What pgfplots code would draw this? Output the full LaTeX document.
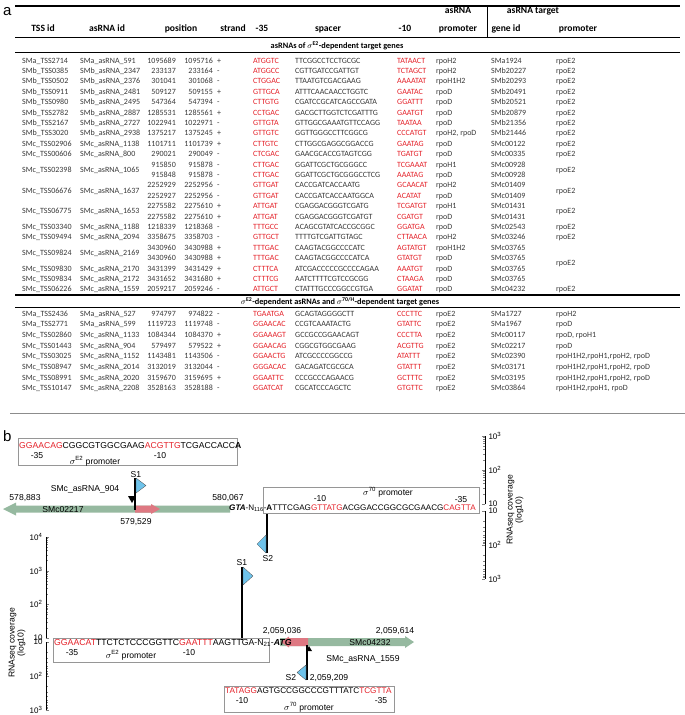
\documentclass[border=0pt]{standalone}
\usepackage{fontspec}
\setmainfont{Carlito}
\newfontfamily\arial{Liberation Sans}
\usepackage{pgfplots}
\pgfplotsset{compat=1.18}
\definecolor{sred}{RGB}{228,32,40}
\definecolor{ggreen}{RGB}{150,185,160}
\definecolor{apink}{RGB}{222,120,130}
\definecolor{fblue}{RGB}{110,195,235}
\definecolor{boxgray}{RGB}{150,150,150}
\definecolor{tgray}{RGB}{55,55,55}
\newcommand{\R}[1]{\textcolor{sred}{#1}}
\newcommand{\row}[9]{%
 \node[tl] at (22,#1) {#2};
 \node[tl] at (80,#1) {#3};
 \node[tr] at (176,#1) {#4};
 \node[tr] at (213,#1) {#5};
 \node[tl] at (217,#1) {#6};
 \node[tl,text=sred] at (253,#1) {#7};
 \node[tl] at (295,#1) {#8};
 \node[tl,text=sred] at (397,#1) {#9};}
\newcommand{\rowb}[4]{%
 \node[tl] at (436,#1) {#2};
 \node[tl] at (491,#1) {#3};
 \node[tl] at (556,#1) {#4};}
\newcommand{\covfont}{\arial\fontsize{8}{8}\selectfont}
\begin{document}
\begin{tikzpicture}
\path[use as bounding box] (0,0) rectangle (685pt,-715pt);
% ---------- canvas axis for diagram shapes ----------
\begin{axis}[at={(0pt,-715pt)}, anchor=south west, x=1pt, y=1pt, y dir=reverse,
  xmin=0, xmax=685, ymin=0, ymax=715, hide axis, clip=false]
% top: green gene arrow SMc02217 (minus strand)
\addplot[fill=ggreen, draw=none] coordinates {(3,509)(16,502.5)(16,505.5)(230,505.5)(230,512.5)(16,512.5)(16,515.5)(3,509)};
% asRNA 904 pink arrow
\addplot[fill=apink, draw=none] coordinates {(135,505.5)(151,505.5)(151,504)(160,509)(151,514)(151,512.5)(135,512.5)(135,505.5)};
% S1 top
\addplot[black, line width=1.6pt] coordinates {(135,478)(135,510)};
\addplot[fill=fblue, draw=black!70, line width=0.3pt] coordinates {(136,478)(146,485.5)(136,493)(136,478)};
\addplot[fill=black, draw=none] coordinates {(128,496)(136,496)(132,503)(128,496)};
% S2 top
\addplot[black, line width=1.6pt] coordinates {(267,514)(267,553)};
\addplot[fill=fblue, draw=black!70, line width=0.3pt] coordinates {(266,535)(257,544)(266,553)(266,535)};
% bottom: green gene arrow SMc04232 (plus strand)
\addplot[fill=ggreen, draw=none] coordinates {(280,638)(405,638)(405,636)(414,642)(405,648)(405,646)(280,646)(280,638)};
\addplot[fill=apink, draw=none] coordinates {(308,638)(289,638)(289,636.5)(281,642)(289,647.5)(289,646)(308,646)(308,638)};
% S1 bottom
\addplot[black, line width=1.6pt] coordinates {(242,567)(242,640)};
\addplot[fill=fblue, draw=black!70, line width=0.3pt] coordinates {(243,567)(253,576)(243,585)(243,567)};
% S2 bottom
\addplot[black, line width=1.6pt] coordinates {(307,645)(307,680)};
\addplot[fill=fblue, draw=black!70, line width=0.3pt] coordinates {(306,665)(297,672.5)(306,680)(306,665)};
\addplot[fill=black, draw=none] coordinates {(306,651)(312,651)(309,646)(306,651)};
\end{axis}
% ---------- coverage axes ----------
\begin{axis}[at={(485pt,-504pt)}, anchor=south east, scale only axis, width=1pt, height=68pt,
  xmin=0, xmax=1, ymode=log, ymin=10, ymax=1000, axis x line=none, axis y line=right,
  axis line style={-}, tick align=inside, major tick length=3pt, minor tick length=1.6pt,
  tick label style={font=\covfont},
  ytick={10,100,1000}, yticklabels={10,10\textsuperscript{2},10\textsuperscript{3}}]
\addplot[draw=none] coordinates {(0.5,100)};
\end{axis}
\begin{axis}[at={(485pt,-511pt)}, anchor=north east, scale only axis, width=1pt, height=68pt,
  xmin=0, xmax=1, ymode=log, ymin=10, ymax=1000, y dir=reverse, axis x line=none, axis y line=right,
  axis line style={-}, tick align=inside, major tick length=3pt, minor tick length=1.6pt,
  tick label style={font=\covfont},
  ytick={10,100,1000}, yticklabels={10,10\textsuperscript{2},10\textsuperscript{3}}]
\addplot[draw=none] coordinates {(0.5,100)};
\end{axis}
\begin{axis}[at={(46pt,-638pt)}, anchor=south west, scale only axis, width=1pt, height=101pt,
  xmin=0, xmax=1, ymode=log, ymin=10, ymax=10000, axis x line=none, axis y line=left,
  axis line style={-}, tick align=inside, major tick length=3pt, minor tick length=1.6pt,
  tick label style={font=\covfont},
  ytick={10,100,1000,10000}, yticklabels={10,10\textsuperscript{2},10\textsuperscript{3},10\textsuperscript{4}}]
\addplot[draw=none] coordinates {(0.5,100)};
\end{axis}
\begin{axis}[at={(46pt,-642pt)}, anchor=north west, scale only axis, width=1pt, height=68pt,
  xmin=0, xmax=1, ymode=log, ymin=10, ymax=1000, y dir=reverse, axis x line=none, axis y line=left,
  axis line style={-}, tick align=inside, major tick length=3pt, minor tick length=1.6pt,
  tick label style={font=\covfont},
  ytick={10,100,1000}, yticklabels={10,10\textsuperscript{2},10\textsuperscript{3}}]
\addplot[draw=none] coordinates {(0.5,100)};
\end{axis}
% ---------- text ----------
\begin{scope}[x=1pt,y=-1pt,
  tl/.style={anchor=base west, inner sep=0pt, text=tgray, font=\fontsize{8}{9}\selectfont},
  tr/.style={anchor=base east, inner sep=0pt, text=tgray, font=\fontsize{8}{9}\selectfont},
  hd/.style={anchor=base, inner sep=0pt, font=\bfseries\fontsize{9.6}{10}\selectfont},
  st/.style={anchor=base, inner sep=0pt, font=\bfseries\fontsize{8.3}{9}\selectfont},
  bt/.style={inner sep=0pt, font=\arial\fontsize{8.6}{9}\selectfont},
  sq/.style={anchor=base west, inner sep=0pt, font=\arial\fontsize{8.2}{9}\selectfont}]
\node[anchor=base west, inner sep=0pt, font=\arial\fontsize{15}{15}\selectfont] at (3,15) {a};
\draw[line width=1.1pt] (15,6)--(680,6);
\draw[line width=0.8pt] (15,37)--(680,37);
\draw[line width=0.6pt] (487,7)--(487,37);
\draw[line width=0.6pt] (15,52.5)--(680,52.5);
\draw[line width=1.2pt] (15,295)--(680,295);
\draw[line width=0.6pt] (15,307)--(680,307);
\draw[line width=0.6pt, black!45] (10,413)--(685,413);
% header
\node[hd] at (43,31) {TSS id};
\node[hd] at (107,31) {asRNA id};
\node[hd] at (181,31) {position};
\node[hd] at (233,31) {strand};
\node[hd] at (262,31) {-35};
\node[hd] at (328,31) {spacer};
\node[hd] at (405,31) {-10};
\node[hd] at (458,31) {promoter};
\node[hd] at (458,13) {asRNA};
\node[hd] at (506,31) {gene id};
\node[hd] at (578,31) {promoter};
\node[hd] at (533,13) {asRNA target};
\node[st] at (337,48.5) {asRNAs of \(\sigma\)\textsuperscript{E2}-dependent target genes};
\node[st] at (340,304.5) {\(\sigma\)\textsuperscript{E2}-dependent asRNAs and \(\sigma\)\textsuperscript{70/H}-dependent target genes};
% section 1
\row{63}{SMa\_TSS2714}{SMa\_asRNA\_591}{1095689}{1095716}{+}{ATGGTC}{TTCGGCCTCCTGCGC}{TATAACT}
\rowb{63}{rpoH2}{SMa1924}{rpoE2}
\row{73.4}{SMb\_TSS0385}{SMb\_asRNA\_2347}{233137}{233164}{-}{ATGGCC}{CGTTGATCCGATTGT}{TCTAGCT}
\rowb{73.4}{rpoH2}{SMb20227}{rpoE2}
\row{83.8}{SMb\_TSS0502}{SMb\_asRNA\_2376}{301041}{301068}{-}{CTGGAC}{TTAATGTCGACGAAG}{AAAATAT}
\rowb{83.8}{rpoH1H2}{SMb20293}{rpoE2}
\row{94.2}{SMb\_TSS0911}{SMb\_asRNA\_2481}{509127}{509155}{+}{GTTGCA}{ATTTCAACAACCTGGTC}{GAATAC}
\rowb{94.2}{rpoD}{SMb20491}{rpoE2}
\row{104.6}{SMb\_TSS0980}{SMb\_asRNA\_2495}{547364}{547394}{-}{CTTGTG}{CGATCCGCATCAGCCGATA}{GGATTT}
\rowb{104.6}{rpoD}{SMb20521}{rpoE2}
\row{115}{SMb\_TSS2782}{SMb\_asRNA\_2887}{1285531}{1285561}{+}{CCTGAC}{GACGCTTGGTCTCGATTTG}{GAATGT}
\rowb{115}{rpoD}{SMb20879}{rpoE2}
\row{125.4}{SMb\_TSS2167}{SMb\_asRNA\_2727}{1022941}{1022971}{-}{GTTGTA}{GTTGGCGAAATGTTCCAGG}{TAATAA}
\rowb{125.4}{rpoD}{SMb21356}{rpoE2}
\row{135.8}{SMb\_TSS3020}{SMb\_asRNA\_2938}{1375217}{1375245}{+}{GTTGTC}{GGTTGGGCCTTCGGCG}{CCCATGT}
\rowb{135.8}{rpoH2, rpoD}{SMb21446}{rpoE2}
\row{146.2}{SMc\_TSS02906}{SMc\_asRNA\_1138}{1101711}{1101739}{+}{CTTGTC}{CTTGGCGAGGCGGACCG}{GAATAG}
\rowb{146.2}{rpoD}{SMc00122}{rpoE2}
\row{156.6}{SMc\_TSS00606}{SMc\_asRNA\_800}{290021}{290049}{-}{CTCGAC}{GAACGCACCGTAGTCGG}{TGATGT}
\rowb{156.6}{rpoD}{SMc00335}{rpoE2}
\row{167}{}{}{915850}{915878}{-}{CTTGAC}{GGATTCGCTGCGGGCC}{TCGAAAT}
\rowb{167}{rpoH1}{SMc00928}{}
\row{177.4}{}{}{915848}{915878}{-}{CTTGAC}{GGATTCGCTGCGGGCCTCG}{AAATAG}
\rowb{177.4}{rpoD}{SMc00928}{}
\row{172.2}{SMc\_TSS02398}{SMc\_asRNA\_1065}{}{}{}{}{}{}
\rowb{172.2}{}{}{rpoE2}
\row{187.8}{}{}{2252929}{2252956}{-}{GTTGAT}{CACCGATCACCAATG}{GCAACAT}
\rowb{187.8}{rpoH2}{SMc01409}{}
\row{198.2}{}{}{2252927}{2252956}{-}{GTTGAT}{CACCGATCACCAATGGCA}{ACATAT}
\rowb{198.2}{rpoD}{SMc01409}{}
\row{193}{SMc\_TSS06676}{SMc\_asRNA\_1637}{}{}{}{}{}{}
\rowb{193}{}{}{rpoE2}
\row{208.6}{}{}{2275582}{2275610}{+}{ATTGAT}{CGAGGACGGGTCGATG}{TCGATGT}
\rowb{208.6}{rpoH1}{SMc01431}{}
\row{219}{}{}{2275582}{2275610}{+}{ATTGAT}{CGAGGACGGGTCGATGT}{CGATGT}
\rowb{219}{rpoD}{SMc01431}{}
\row{213.8}{SMc\_TSS06775}{SMc\_asRNA\_1653}{}{}{}{}{}{}
\rowb{213.8}{}{}{rpoE2}
\row{229.4}{SMc\_TSS03340}{SMc\_asRNA\_1188}{1218339}{1218368}{-}{TTTGCC}{ACAGCGTATCACCGCGGC}{GGATGA}
\rowb{229.4}{rpoD}{SMc02543}{rpoE2}
\row{239.8}{SMc\_TSS09494}{SMc\_asRNA\_2094}{3358675}{3358703}{-}{GTTGCT}{TTTTGTCGATTGTAGC}{CTTAACA}
\rowb{239.8}{rpoH2}{SMc03246}{rpoE2}
\row{250.2}{}{}{3430960}{3430988}{+}{TTTGAC}{CAAGTACGGCCCCATC}{AGTATGT}
\rowb{250.2}{rpoH1H2}{SMc03765}{}
\row{260.6}{}{}{3430960}{3430988}{+}{TTTGAC}{CAAGTACGGCCCCATCA}{GTATGT}
\rowb{260.6}{rpoD}{SMc03765}{}
\row{255.4}{SMc\_TSS09824}{SMc\_asRNA\_2169}{}{}{}{}{}{}
\row{271}{SMc\_TSS09830}{SMc\_asRNA\_2170}{3431399}{3431429}{+}{CTTTCA}{ATCGACCCCCGCCCCAGAA}{AAATGT}
\rowb{271}{rpoD}{SMc03765}{}
\row{281.4}{SMc\_TSS09834}{SMc\_asRNA\_2172}{3431652}{3431680}{+}{CTTTCG}{AATCTTTTCGTCCGCGG}{CTAAGA}
\rowb{281.4}{rpoD}{SMc03765}{}
\rowb{265.8}{}{}{rpoE2}
\row{291.8}{SMc\_TSS06226}{SMc\_asRNA\_1559}{2059217}{2059246}{-}{ATTGCT}{CTATTTGCCCGGCCGTGA}{GGATAT}
\rowb{291.8}{rpoD}{SMc04232}{rpoE2}
% section 2
\row{316}{SMa\_TSS2436}{SMa\_asRNA\_527}{974797}{974822}{-}{TGAATGA}{GCAGTAGGGGCTT}{CCCTTC}
\rowb{316}{rpoE2}{SMa1727}{rpoH2}
\row{326.7}{SMa\_TSS2771}{SMa\_asRNA\_599}{1119723}{1119748}{-}{GGAACAC}{CCGTCAAATACTG}{GTATTC}
\rowb{326.7}{rpoE2}{SMa1967}{rpoD}
\row{337.4}{SMc\_TSS02860}{SMc\_asRNA\_1133}{1084344}{1084370}{+}{GGAAAGT}{GCCGCCGGAACAGT}{CCCTTA}
\rowb{337.4}{rpoE2}{SMc00117}{rpoD, rpoH1}
\row{348.1}{SMc\_TSS01443}{SMc\_asRNA\_904}{579497}{579522}{+}{GGAACAG}{CGGCGTGGCGAAG}{ACGTTG}
\rowb{348.1}{rpoE2}{SMc02217}{rpoD}
\row{358.8}{SMc\_TSS03025}{SMc\_asRNA\_1152}{1143481}{1143506}{-}{GGAACTG}{ATCGCCCCGGCCG}{ATATTT}
\rowb{358.8}{rpoE2}{SMc02390}{rpoH1H2,rpoH1,rpoH2, rpoD}
\row{369.5}{SMc\_TSS08947}{SMc\_asRNA\_2014}{3132019}{3132044}{-}{GGGACAC}{GACAGATCGCGCA}{GTATTT}
\rowb{369.5}{rpoE2}{SMc03171}{rpoH1H2,rpoH1,rpoH2, rpoD}
\row{380.2}{SMc\_TSS08991}{SMc\_asRNA\_2020}{3159670}{3159695}{+}{GGAATTC}{CCCGCCCAGAACG}{GCTTTC}
\rowb{380.2}{rpoE2}{SMc03195}{rpoH1H2,rpoH1,rpoH2, rpoD}
\row{390.9}{SMc\_TSS10147}{SMc\_asRNA\_2208}{3528163}{3528188}{-}{GGATCAT}{CGCATCCCAGCTC}{GTGTTC}
\rowb{390.9}{rpoE2}{SMc03864}{rpoH1H2,rpoH1, rpoD}
% ---------------- part b ----------------
\node[anchor=base west, inner sep=0pt, font=\arial\fontsize{15}{15}\selectfont] at (3,441) {b};
% top sigma E2 box
\draw[boxgray, line width=0.5pt] (18,438) rectangle (237,465);
\node[sq, font=\arial\fontsize{8.6}{9}\selectfont] at (19,448.5) {\R{GGAACAG}CGGCGTGGCGAAG\R{ACGTTG}TCGACCACC\textbf{A}};
\node[bt, anchor=base] at (37,458) {-35};
\node[bt, anchor=base] at (160,458) {-10};
\node[bt, anchor=base] at (95,464) {\(\sigma\)\textsuperscript{E2} promoter};
\node[bt, anchor=base] at (136,477) {S1};
\node[bt, anchor=base] at (85,491) {SMc\_asRNA\_904};
\node[bt, anchor=base] at (25,500) {578,883};
\node[bt, anchor=base] at (63,512) {SMc02217};
\node[bt, anchor=base] at (136,524) {579,529};
\node[bt, anchor=base] at (228,500) {580,067};
% top sigma 70 box
\draw[boxgray, line width=0.5pt] (263,487) rectangle (479,513);
\node[sq, font=\arial\fontsize{8.1}{9}\selectfont] at (229,510.5) {\textbf{\textit{GTA}}-N\textsubscript{116}-\textbf{A}TTTCGAG\R{GTTATG}ACGGACCGGCGCGAACG\R{CAGTTA}};
\node[bt, anchor=base] at (320,501) {-10};
\node[bt, anchor=base] at (388,495) {\(\sigma\)\textsuperscript{70} promoter};
\node[bt, anchor=base] at (461,502) {-35};
\node[bt, anchor=base] at (268,561) {S2};
\node[bt, anchor=center, rotate=90, align=center] at (515,510) {RNAseq coverage\\(log10)};
% bottom
\node[bt, anchor=base] at (242,565) {S1};
\node[bt, anchor=center, rotate=90, align=center] at (17,643) {RNAseq coverage\\(log10)};
\draw[boxgray, line width=0.5pt] (53,638) rectangle (269,662);
\node[sq, font=\arial\fontsize{8.7}{9}\selectfont] at (54,645.5) {\R{GGAACAT}TTCTCTCCCGGTTC\R{GAATTT}AAGTTGA-N\textsubscript{21}-\textbf{\textit{ATG}}};
\node[bt, anchor=base] at (72,655.5) {-35};
\node[bt, anchor=base] at (189,655.5) {-10};
\node[bt, anchor=base] at (131,658.5) {\(\sigma\)\textsuperscript{E2} promoter};
\node[bt, anchor=base] at (282,633) {2,059,036};
\node[bt, anchor=base] at (395,633) {2,059,614};
\node[bt, anchor=base] at (370,645) {SMc04232};
\node[bt, anchor=base] at (363,661) {SMc\_asRNA\_1559};
\node[bt, anchor=base] at (329,680) {2,059,209};
\node[bt, anchor=base] at (291,680) {S2};
\draw[boxgray, line width=0.5pt] (224,686) rectangle (394,712);
\node[sq] at (225,693) {\R{TATAGG}AGTGCCGGCCCGTTTATC\R{TCGTTA}};
\node[bt, anchor=base] at (242,703) {-10};
\node[bt, anchor=base] at (309,710) {\(\sigma\)\textsuperscript{70} promoter};
\node[bt, anchor=base] at (381,703) {-35};
\end{scope}
\end{tikzpicture}
\end{document}
